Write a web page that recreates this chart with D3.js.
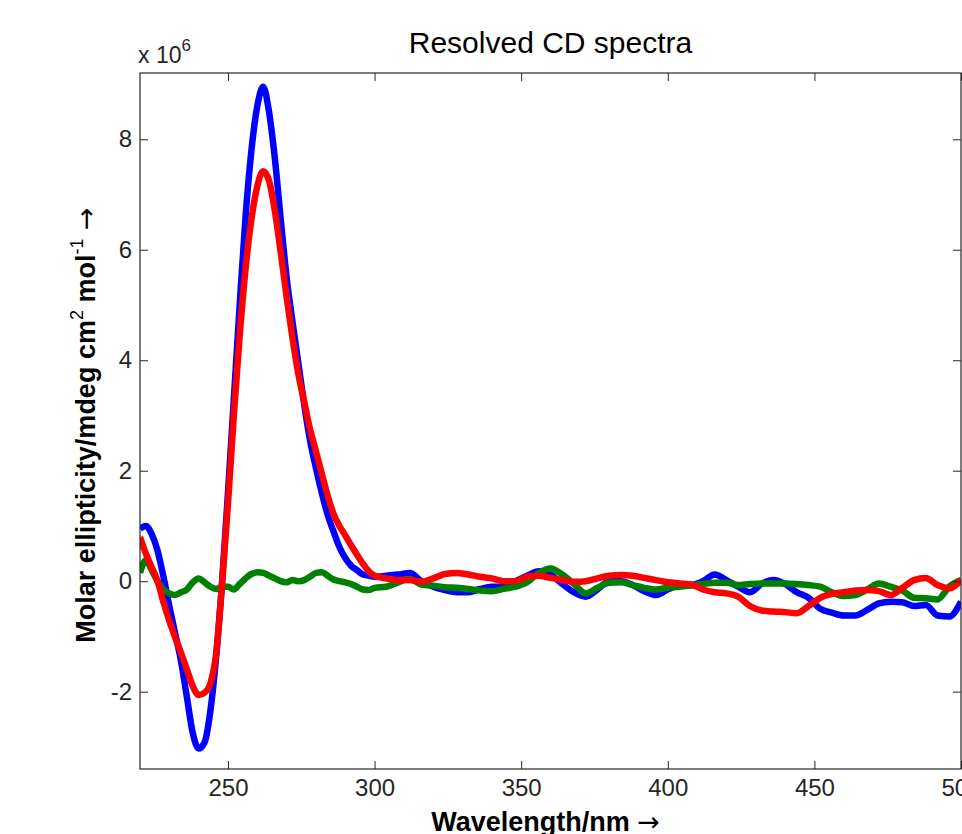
<!DOCTYPE html>
<html>
<head>
<meta charset="utf-8">
<script src="https://cdn.jsdelivr.net/npm/d3@7"></script>
<style>
  body { margin: 0; background: #fff; }
  text { font-family: "Liberation Sans", Arial, sans-serif; }
</style>
</head>
<body>
<script>
// wavelength grid (nm): 2 nm steps up to 300, then 4 nm steps
var wavelength = [220,222,224,226,228,230,232,234,236,238,240,242,244,246,248,250,252,254,256,258,260,
  262,264,266,268,270,272,274,276,278,280,282,284,286,288,290,292,294,296,298,300,
  304,308,312,316,320,324,328,332,336,340,344,348,352,356,360,364,368,372,376,380,
  384,388,392,396,400,404,408,412,416,420,424,428,432,436,440,444,448,452,456,460,
  464,468,472,476,480,484,488,492,496,500];

// molar ellipticity, x 10^6
var blueVals = [0.95,1.0,0.85,0.55,0.08,-0.45,-0.95,-1.45,-2.1,-2.75,-3.03,-2.92,-2.35,-1.35,0.0,1.6,3.3,5.0,6.6,7.8,8.6,
  8.95,8.5,7.65,6.55,5.5,4.7,3.95,3.2,2.55,2.05,1.6,1.2,0.9,0.62,0.42,0.28,0.2,0.12,0.1,0.08,
  0.1,0.12,0.15,0.0,-0.1,-0.16,-0.2,-0.2,-0.14,-0.1,-0.1,0.0,0.1,0.18,0.12,-0.05,-0.2,-0.28,-0.15,0.0,
  0.0,-0.07,-0.18,-0.25,-0.15,-0.08,-0.07,0.0,0.12,0.02,-0.1,-0.2,-0.05,0.02,-0.05,-0.2,-0.3,-0.5,-0.57,-0.62,
  -0.62,-0.52,-0.4,-0.37,-0.38,-0.45,-0.43,-0.62,-0.64,-0.37];

var redVals = [0.8,0.5,0.25,0.0,-0.38,-0.72,-1.02,-1.3,-1.6,-1.9,-2.06,-2.02,-1.85,-1.3,-0.05,1.4,3.0,4.45,5.65,6.55,7.15,
  7.42,7.25,6.7,5.95,5.15,4.4,3.75,3.25,2.75,2.35,1.95,1.55,1.22,1.0,0.83,0.65,0.48,0.32,0.18,0.1,
  0.05,0.02,0.02,-0.01,0.05,0.13,0.15,0.12,0.08,0.05,0.0,0.0,0.08,0.1,0.06,0.02,-0.01,0.0,0.05,0.1,
  0.11,0.1,0.06,0.02,-0.02,-0.04,-0.06,-0.15,-0.2,-0.22,-0.28,-0.45,-0.53,-0.55,-0.56,-0.58,-0.45,-0.3,-0.23,-0.2,
  -0.17,-0.16,-0.18,-0.25,-0.12,0.02,0.06,-0.07,-0.13,0.02];

var greenVals = [0.15,0.38,0.2,0.0,-0.15,-0.22,-0.25,-0.2,-0.15,-0.02,0.05,-0.02,-0.1,-0.14,-0.1,-0.1,-0.15,-0.05,0.05,0.13,0.16,
  0.15,0.1,0.05,0.0,-0.02,0.02,0.0,0.02,0.08,0.15,0.16,0.1,0.03,0.0,-0.02,-0.05,-0.1,-0.15,-0.16,-0.12,
  -0.1,-0.02,0.04,-0.06,-0.08,-0.11,-0.12,-0.14,-0.17,-0.18,-0.14,-0.1,-0.02,0.15,0.23,0.12,-0.05,-0.22,-0.12,-0.03,
  -0.02,-0.07,-0.12,-0.15,-0.12,-0.1,-0.08,-0.05,-0.03,-0.03,-0.07,-0.05,-0.04,-0.04,-0.04,-0.05,-0.07,-0.1,-0.2,-0.27,
  -0.25,-0.15,-0.04,-0.1,-0.17,-0.3,-0.31,-0.33,-0.1,0.02];

var xTicks = [250, 300, 350, 400, 450, 500];
var yTicks = [-2, 0, 2, 4, 6, 8];

var series = [
  {name: "blue", color: "#0000ff", values: blueVals},
  {name: "green", color: "#008000", values: greenVals},
  {name: "red", color: "#ff0000", values: redVals}
];

var W = 962, H = 834;
var plotL = 140, plotR = 961, plotT = 73, plotB = 769;

var svg = d3.select("body").append("svg").attr("width", W).attr("height", H);

var x = d3.scaleLinear().domain([220, 500]).range([plotL, plotR]);
var y = d3.scaleLinear().domain([-3.4, 9.2]).range([plotB, plotT]);

// curves
var line = d3.line()
  .x(function (d) { return x(d[0]); })
  .y(function (d) { return y(d[1]); })
  .curve(d3.curveMonotoneX);

svg.append("clipPath").attr("id", "clip")
  .append("rect").attr("x", plotL).attr("y", plotT).attr("width", plotR - plotL).attr("height", plotB - plotT);

svg.append("g").attr("clip-path", "url(#clip)")
  .selectAll("path")
  .data(series)
  .enter()
  .append("path")
  .attr("d", function (s) { return line(wavelength.map(function (w, i) { return [w, s.values[i]]; })); })
  .attr("fill", "none")
  .attr("stroke", function (s) { return s.color; })
  .attr("stroke-width", 6.5)
  .attr("stroke-linejoin", "round");

// axes, MATLAB style: ticks inward on all four sides
function styleAxis(g) {
  g.select(".domain").remove();
  g.selectAll("line").attr("stroke", "#262626");
  g.selectAll("text").attr("fill", "#262626").style("font-size", "24px")
    .style("font-family", "'Liberation Sans', Arial, sans-serif");
}

var plain = function (d) { return String(d); };

svg.append("g").attr("transform", "translate(0," + plotB + ")")
  .call(d3.axisBottom(x).tickValues(xTicks).tickFormat(plain).tickSizeInner(-8).tickSizeOuter(0).tickPadding(10))
  .call(styleAxis);
svg.append("g").attr("transform", "translate(0," + plotT + ")")
  .call(d3.axisTop(x).tickValues(xTicks).tickSizeInner(-8).tickSizeOuter(0).tickFormat(""))
  .call(styleAxis);
svg.append("g").attr("transform", "translate(" + plotL + ",0)")
  .call(d3.axisLeft(y).tickValues(yTicks).tickFormat(plain).tickSizeInner(-8).tickSizeOuter(0).tickPadding(8))
  .call(styleAxis);
svg.append("g").attr("transform", "translate(" + plotR + ",0)")
  .call(d3.axisRight(y).tickValues(yTicks).tickSizeInner(-8).tickSizeOuter(0).tickFormat(""))
  .call(styleAxis);

svg.append("rect")
  .attr("x", plotL).attr("y", plotT).attr("width", plotR - plotL).attr("height", plotB - plotT)
  .attr("fill", "none").attr("stroke", "#262626").attr("stroke-width", 1.2);

// exponent label
var ex = svg.append("text").attr("x", plotL - 2).attr("y", 63).attr("fill", "#262626").style("font-size", "23px");
ex.append("tspan").text("x 10");
ex.append("tspan").attr("dy", -12).style("font-size", "17px").text("6");

// title
svg.append("text")
  .attr("x", (plotL + plotR) / 2).attr("y", 53)
  .attr("text-anchor", "middle")
  .attr("fill", "#000")
  .style("font-size", "30px")
  .text("Resolved CD spectra");

// x label
var xl = svg.append("text")
  .attr("x", (plotL + plotR) / 2 - 5).attr("y", 831)
  .attr("text-anchor", "middle")
  .attr("fill", "#000")
  .style("font-size", "27px")
  .style("font-weight", "bold");
xl.append("tspan").text("Wavelength/nm ");
xl.append("tspan").style("font-family", "'DejaVu Sans'").style("font-weight", "normal").text("\u2192");

// y label
var yl = svg.append("text")
  .attr("transform", "translate(95,425) rotate(-90)")
  .attr("text-anchor", "middle")
  .attr("fill", "#000")
  .style("font-size", "27px")
  .style("font-weight", "bold");
yl.append("tspan").text("Molar ellipticity/mdeg cm");
yl.append("tspan").attr("dy", -12).style("font-size", "18px").style("font-weight", "normal").text("2");
yl.append("tspan").attr("dy", 12).text(" mol");
yl.append("tspan").attr("dy", -12).style("font-size", "18px").style("font-weight", "normal").text("-1");
yl.append("tspan").attr("dy", 12).style("font-family", "'DejaVu Sans'").style("font-weight", "normal").text(" \u2192");
</script>
</body>
</html>
